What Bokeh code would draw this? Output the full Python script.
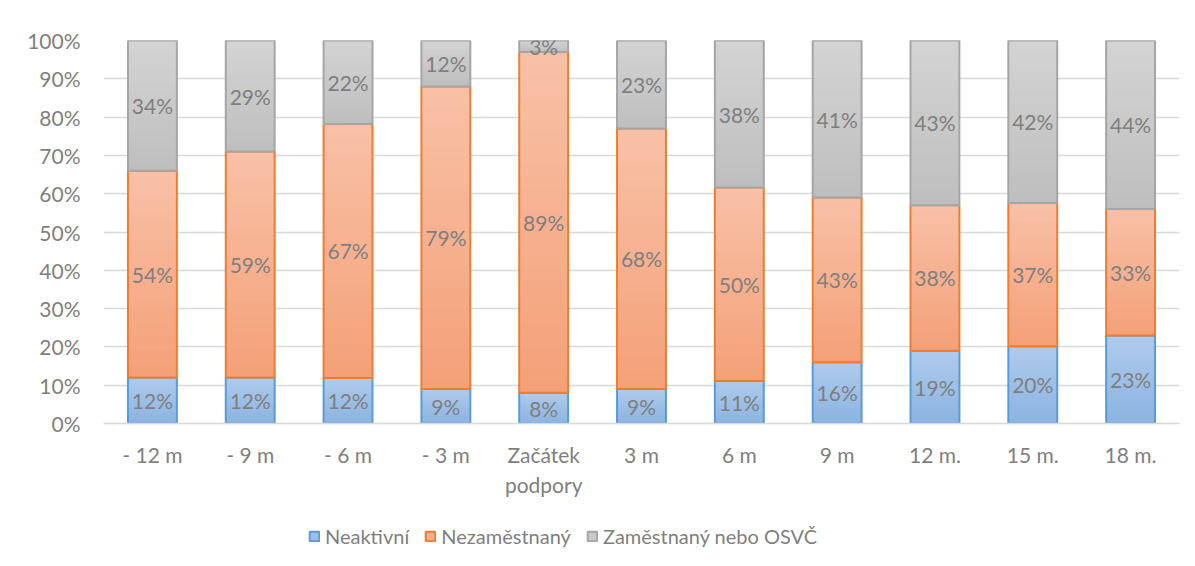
from bokeh.plotting import figure
from bokeh.layouts import column
from bokeh.models import (FactorRange, Range1d, FixedTicker, NumeralTickFormatter,
                          ColumnDataSource, Legend, LegendItem)
from bokeh.core.properties import value
from bokeh.embed import file_html
from bokeh.resources import INLINE

# ---- data ----
categories = ["- 12 m", "- 9 m", "- 6 m", "- 3 m", "Začátek\npodpory",
              "3 m", "6 m", "9 m", "12 m.", "15 m.", "18 m."]
neaktivni = [12, 12, 12, 9, 8, 9, 11, 16, 19, 20, 23]
nezamestnany = [54, 59, 67, 79, 89, 68, 50, 43, 38, 37, 33]
zamestnany = [34, 29, 22, 12, 3, 23, 38, 41, 43, 42, 44]
series_names = ["Neaktivní", "Nezaměstnaný", "Zaměstnaný nebo OSVČ"]
y_ticks = [i / 10 for i in range(11)]

# ---- styles ----
FONT = "Lato"
FS = "21px"
TXT = "#7f7f7f"
grad_top = ["#aecbec", "#f8c1a7", "#d4d4d4"]
grad_bot = ["#8cb3e1", "#f4a078", "#bebebe"]
edge = ["#5b9bd5", "#ed7d31", "#a5a5a5"]
mid = ["#9dbfe7", "#f6b08f", "#c9c9c9"]
BAR_W = 0.5
N_SLICES = 30


def hex2rgb(h):
    h = h.lstrip("#")
    return tuple(int(h[i:i + 2], 16) for i in (0, 2, 4))


def lerp(c1, c2, t):
    a, b = hex2rgb(c1), hex2rgb(c2)
    return "#%02x%02x%02x" % tuple(round(a[i] + (b[i] - a[i]) * t) for i in range(3))


p = figure(x_range=FactorRange(*categories, range_padding=0),
           y_range=Range1d(0, 1),
           frame_width=1076, frame_height=383,
           min_border_left=103, min_border_right=16, min_border_top=40,
           min_border_bottom=82,
           output_backend="svg", toolbar_location=None,
           background_fill_color="white", border_fill_color="white")
p.outline_line_color = None

# normalise to 100 %
series = [neaktivni, nezamestnany, zamestnany]
totals = [sum(s[i] for s in series) for i in range(len(categories))]
bottoms = [0.0] * len(categories)
label_x, label_y, label_t = [], [], []
for k, s in enumerate(series):
    fr = [s[i] / totals[i] for i in range(len(categories))]
    tops = [bottoms[i] + fr[i] for i in range(len(categories))]
    # gradient: stacked overlapping slices, each reaching the segment top
    xs, b0, t0, cols = [], [], [], []
    for j in range(N_SLICES):
        for i, c in enumerate(categories):
            xs.append(c)
            b0.append(bottoms[i] + fr[i] * j / N_SLICES)
            t0.append(tops[i])
            cols.append(lerp(grad_bot[k], grad_top[k], (j + 0.5) / N_SLICES))
    src = ColumnDataSource(dict(x=xs, bottom=b0, top=t0, color=cols))
    p.vbar(x="x", bottom="bottom", top="top", width=BAR_W, source=src,
           fill_color="color", line_color=None)
    p.vbar(x=categories, bottom=bottoms, top=tops, width=BAR_W,
           fill_color=None, line_color=edge[k], line_width=2)
    for i, c in enumerate(categories):
        label_x.append(c)
        label_y.append((bottoms[i] + tops[i]) / 2)
        label_t.append("%d%%" % s[i])
    bottoms = tops

p.text(x=label_x, y=label_y, text=label_t, text_font=value(FONT),
       text_font_size=FS, text_color=TXT, text_align="center",
       text_baseline="middle")

# grid
p.xgrid.grid_line_color = None
p.ygrid.ticker = FixedTicker(ticks=y_ticks)
p.ygrid.grid_line_color = "#d9d9d9"
p.ygrid.grid_line_width = 1.5
p.ygrid.level = "underlay"

# axes
p.yaxis.ticker = FixedTicker(ticks=y_ticks)
p.yaxis.formatter = NumeralTickFormatter(format="0%")
p.yaxis.axis_line_color = None
p.yaxis.major_tick_line_color = None
p.yaxis.minor_tick_line_color = None
p.yaxis.major_tick_out = 0
p.yaxis.major_tick_in = 0
p.yaxis.major_label_standoff = 23
p.yaxis.major_label_text_font = FONT
p.yaxis.major_label_text_font_size = FS
p.yaxis.major_label_text_color = TXT

p.xaxis.axis_line_color = "#d9d9d9"
p.xaxis.axis_line_width = 1.5
p.xaxis.major_tick_line_color = None
p.xaxis.major_tick_out = 0
p.xaxis.major_tick_in = 0
p.xaxis.major_label_standoff = 18
p.xaxis.major_label_text_font = FONT
p.xaxis.major_label_text_font_size = FS
p.xaxis.major_label_text_color = TXT
p.xaxis.major_label_text_line_height = 1.2

# ---- legend strip below the chart ----
pl = figure(width=1195, height=61, x_range=Range1d(0, 1), y_range=Range1d(0, 1),
            x_axis_type=None, y_axis_type=None, min_border=0,
            output_backend="svg", toolbar_location=None,
            background_fill_color="white", border_fill_color="white")
pl.outline_line_color = None
pl.xgrid.visible = False
pl.ygrid.visible = False
items = []
for k, name in enumerate(series_names):
    # hidden renderer carrying the series, used only for its legend swatch
    r = pl.vbar(x=list(range(len(categories))), top=series[k], width=0.1,
                fill_color=mid[k], line_color=edge[k], line_width=2,
                visible=False)
    items.append(LegendItem(label=name, renderers=[r], index=0))
legend = Legend(items=items, orientation="horizontal",
                location=(205, 18), glyph_width=12, glyph_height=12,
                label_standoff=5, spacing=15, padding=0, margin=0,
                border_line_color=None, background_fill_alpha=0,
                inactive_fill_alpha=0,
                label_text_font=FONT, label_text_font_size="20px",
                label_text_color=TXT, label_height=20)
pl.add_layout(legend, "center")

layout = column(p, pl, spacing=0)
open("out.html", "w").write(file_html(layout, INLINE))
